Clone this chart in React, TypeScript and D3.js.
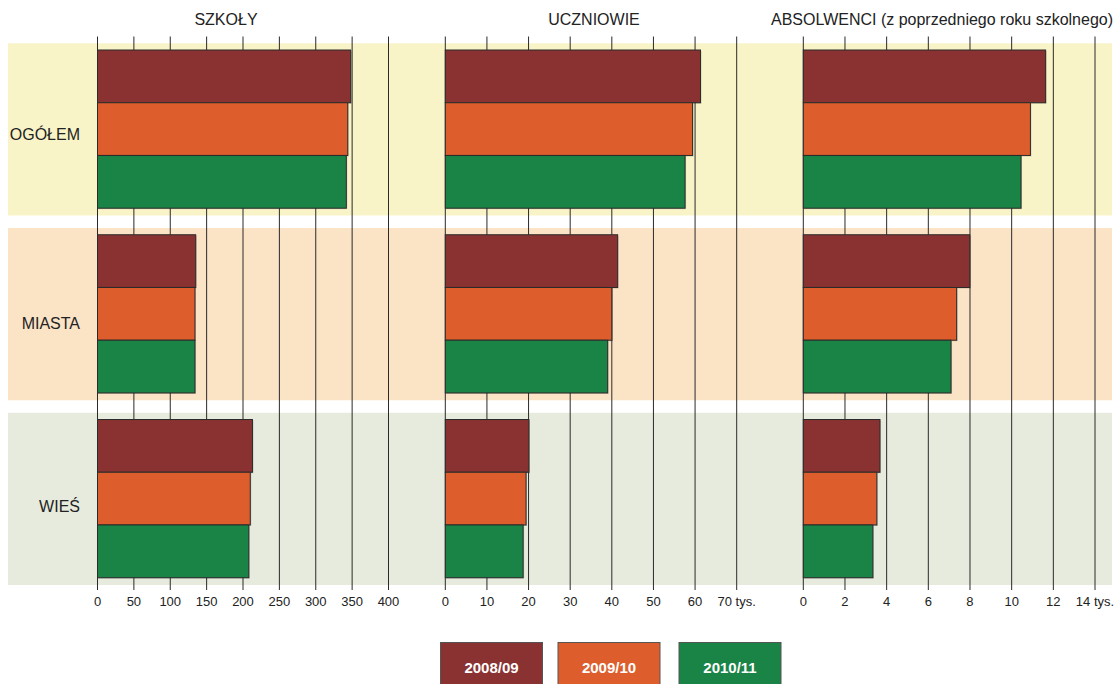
import React from 'react';
import * as d3 from 'd3';

const rows = ['OGÓŁEM', 'MIASTA', 'WIEŚ'];
const years = ['2008/09', '2009/10', '2010/11'];

// values per row: [2008/09, 2009/10, 2010/11]
const szkoly = [
  [348, 344, 342],
  [135, 134, 134],
  [213, 210, 208],
];
const uczniowie = [
  [61.3, 59.4, 57.6],
  [41.4, 40.0, 39.0],
  [20.1, 19.4, 18.7],
];
const absolwenci = [
  [11.63, 10.9, 10.45],
  [7.99, 7.36, 7.09],
  [3.68, 3.53, 3.34],
];

const szkolyTicks = [0, 50, 100, 150, 200, 250, 300, 350, 400];
const uczniowieTicks = [0, 10, 20, 30, 40, 50, 60, 70];
const absolwenciTicks = [0, 2, 4, 6, 8, 10, 12, 14];

const barColors = ['#8a3232', '#dd5e2c', '#198446'];
const bandColors = ['#f8f4c7', '#fbe3c6', '#e6ebdd'];

const font = '"Liberation Sans", Arial, sans-serif';

interface Panel {
  title: string;
  titleX: number;
  x0: number;
  x1: number;
  data: number[][];
  ticks: number[];
  unit: string;
}

const panels: Panel[] = [
  { title: 'SZKOŁY', titleX: 226, x0: 97.5, x1: 388.5, data: szkoly, ticks: szkolyTicks, unit: '' },
  { title: 'UCZNIOWIE', titleX: 594, x0: 445.3, x1: 736.7, data: uczniowie, ticks: uczniowieTicks, unit: ' tys.' },
  { title: 'ABSOLWENCI (z poprzedniego roku szkolnego)', titleX: 942, x0: 803.3, x1: 1095, data: absolwenci, ticks: absolwenciTicks, unit: ' tys.' },
];

const rowLabelOffset = [5, 9, 7];

const App: React.FC = () => {
  const width = 1117;
  const height = 684;

  const y = d3.scaleBand<string>()
    .domain(rows)
    .range([43.3, 585])
    .paddingInner(0.068)
    .paddingOuter(0);

  const yInner = d3.scaleBand<string>()
    .domain(years)
    .range([6.7, y.bandwidth() - 7.3])
    .padding(0);

  return (
    <svg width={width} height={height} style={{ position: 'absolute', left: 0, top: 0, fontFamily: font }}>
      <rect width={width} height={height} fill="#fff" />

      {/* row bands */}
      {rows.map((r, i) => (
        <rect key={r} x={8} y={y(r)} width={1104} height={y.bandwidth()} fill={bandColors[i]} />
      ))}

      {/* row labels */}
      {rows.map((r, i) => (
        <text key={r} x={80} y={(y(r) || 0) + y.bandwidth() / 2 + rowLabelOffset[i]} dy="0.35em" textAnchor="end"
          fontSize={16} fill="#222">{r}</text>
      ))}

      {panels.map(p => {
        const maxTick = p.ticks[p.ticks.length - 1];
        const x = d3.scaleLinear().domain([0, maxTick]).range([p.x0, p.x1]);
        return (
          <g key={p.title}>
            <text x={p.titleX} y={25} textAnchor="middle" fontSize={16} fill="#222">{p.title}</text>

            {/* gridlines */}
            {p.ticks.map(t => (
              <line key={t} x1={x(t)} x2={x(t)} y1={36.5} y2={590} stroke="#2a2a2a" strokeWidth={1} />
            ))}

            {/* bars */}
            {rows.map((r, ri) => (
              <g key={r} transform={`translate(0,${y(r)})`}>
                {years.map((yr, yi) => (
                  <g key={yr}>
                    <rect x={x(0) + 1} y={(yInner(yr) || 0) + 1} width={x(p.data[ri][yi]) - x(0)}
                      height={yInner.bandwidth()} fill="#000" opacity={0.18} />
                    <rect x={x(0)} y={yInner(yr)} width={x(p.data[ri][yi]) - x(0)}
                      height={yInner.bandwidth()} fill={barColors[yi]} stroke="#2b2b2b" strokeWidth={1} />
                  </g>
                ))}
              </g>
            ))}

            {/* tick labels */}
            {p.ticks.map((t, i) => (
              <text key={t} x={x(t)} y={606} textAnchor="middle" fontSize={13} fill="#222">
                {i === p.ticks.length - 1 ? `${t}${p.unit}` : t}
              </text>
            ))}
          </g>
        );
      })}

      {/* legend */}
      {years.map((yr, i) => {
        const lx = [440.5, 558, 679][i];
        return (
          <g key={yr}>
            <rect x={lx} y={642.5} width={102} height={48} fill={barColors[i]} stroke="#555" strokeWidth={1} />
            <text x={lx + 51} y={668} dy="0.35em" textAnchor="middle" fontSize={15} fontWeight="bold" fill="#fff">{yr}</text>
          </g>
        );
      })}
    </svg>
  );
};

export default App;
